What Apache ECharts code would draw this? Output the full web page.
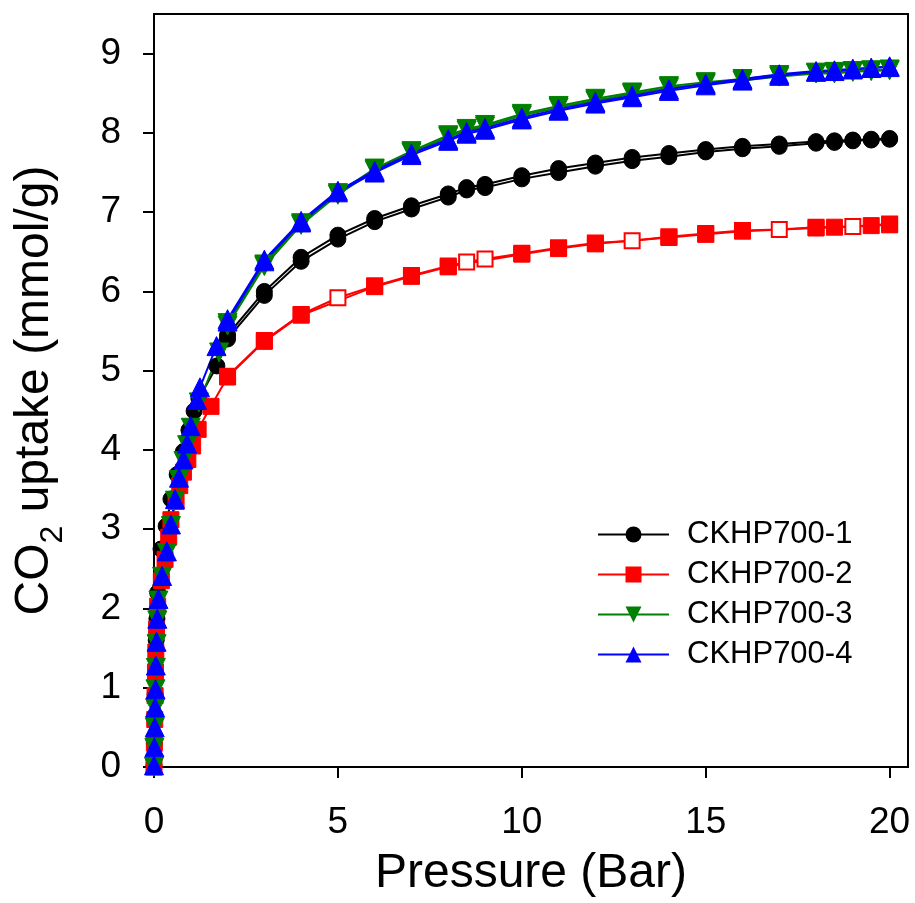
<!DOCTYPE html>
<html><head><meta charset="utf-8">
<script src="https://cdn.jsdelivr.net/npm/echarts@6/dist/echarts.min.js"></script>
<style>html,body{margin:0;padding:0;background:#fff}#c{width:915px;height:903px}</style>
</head><body><div id="c"></div>
<script>
const seriesNames = ['CKHP700-1', 'CKHP700-2', 'CKHP700-3', 'CKHP700-4'];
const xTicks = [0, 5, 10, 15, 20];
const yTicks = [0, 1, 2, 3, 4, 5, 6, 7, 8, 9];

// CKHP700-1 (black circles)
const p1Ads = [0, 0.01, 0.02, 0.03, 0.04, 0.06, 0.08, 0.1, 0.19, 0.33, 0.46, 0.63, 0.8, 0.95, 1.09, 1.22, 1.71, 2, 3, 4, 5, 6, 7, 8, 8.5, 9, 10, 11, 12, 13, 14, 15, 16, 17, 18, 18.5, 19, 19.5, 20];
const q1Ads = [0.02, 0.3, 0.62, 0.92, 1.2, 1.6, 1.87, 2.2, 2.75, 3.04, 3.38, 3.69, 3.98, 4.25, 4.49, 4.65, 5.06, 5.4, 5.95, 6.38, 6.66, 6.88, 7.04, 7.19, 7.28, 7.31, 7.42, 7.5, 7.58, 7.65, 7.7, 7.76, 7.8, 7.83, 7.87, 7.88, 7.9, 7.91, 7.92];
const p1Des = [20, 19.5, 19, 18.5, 18, 17, 16, 15, 14, 13, 12, 11, 10, 9, 8.5, 8, 7, 6, 5, 4, 3, 2];
const q1Des = [7.93, 7.92, 7.91, 7.9, 7.89, 7.86, 7.83, 7.79, 7.74, 7.69, 7.62, 7.55, 7.46, 7.35, 7.31, 7.23, 7.08, 6.92, 6.71, 6.43, 6.0, 5.45];

// CKHP700-2 (red squares)
const p2Ads = [0, 0.01, 0.02, 0.03, 0.04, 0.05, 0.07, 0.1, 0.2, 0.3, 0.4, 0.46, 0.6, 0.7, 0.8, 0.92, 1.05, 1.2, 1.55, 2, 3, 4, 6, 7, 8, 10, 11, 12, 14, 15, 16, 18, 18.5, 19.5, 20];
const q2Ads = [0, 0.3, 0.6, 0.9, 1.2, 1.45, 1.74, 2.03, 2.35, 2.62, 2.9, 3.12, 3.35, 3.55, 3.72, 3.88, 4.05, 4.26, 4.55, 4.92, 5.37, 5.7, 6.06, 6.19, 6.31, 6.47, 6.54, 6.6, 6.68, 6.72, 6.76, 6.8, 6.81, 6.83, 6.84];
const p2Des = [20, 19, 18, 17, 16, 15, 14, 13, 12, 11, 10, 9, 8.5, 8, 7, 6, 5, 4, 3, 2];
const q2Des = [6.85, 6.82, 6.81, 6.78, 6.77, 6.73, 6.69, 6.64, 6.61, 6.55, 6.48, 6.41, 6.37, 6.32, 6.2, 6.07, 5.92, 5.71, 5.38, 4.93];

// CKHP700-3 (green down triangles)
const p3Ads = [0, 0.01, 0.02, 0.03, 0.04, 0.05, 0.07, 0.09, 0.12, 0.22, 0.35, 0.46, 0.57, 0.68, 0.8, 0.9, 1.0, 1.22, 1.77, 2, 3, 4, 5, 6, 7, 8, 8.5, 9, 10, 11, 12, 13, 14, 15, 16, 17, 18, 18.5, 19, 19.5, 20];
const q3Ads = [0, 0.24, 0.5, 0.74, 0.98, 1.25, 1.55, 1.85, 2.1, 2.4, 2.7, 3.04, 3.36, 3.62, 3.86, 4.06, 4.28, 4.6, 5.23, 5.57, 6.32, 6.84, 7.22, 7.53, 7.75, 7.95, 8.03, 8.08, 8.22, 8.32, 8.41, 8.49, 8.57, 8.62, 8.66, 8.71, 8.75, 8.75, 8.77, 8.78, 8.79];
const p3Des = [20, 19.5, 19, 18.5, 18, 17, 16, 15, 14, 13, 12, 11, 10, 9, 8.5, 8, 7, 6, 5, 4, 3, 2];
const q3Des = [8.8, 8.79, 8.78, 8.77, 8.76, 8.73, 8.68, 8.64, 8.59, 8.51, 8.43, 8.34, 8.24, 8.1, 8.05, 7.97, 7.77, 7.55, 7.24, 6.86, 6.34, 5.6];

// CKHP700-4 (blue up triangles)
const p4Ads = [0, 0.01, 0.02, 0.03, 0.04, 0.05, 0.07, 0.09, 0.12, 0.22, 0.35, 0.46, 0.57, 0.68, 0.8, 0.9, 1.0, 1.17, 1.25, 1.7, 2, 3, 4, 5, 6, 7, 8, 8.5, 9, 10, 11, 12, 13, 14, 15, 16, 17, 18, 18.5, 19, 19.5, 20];
const q4Ads = [0.02, 0.25, 0.5, 0.75, 0.98, 1.28, 1.58, 1.87, 2.12, 2.41, 2.72, 3.06, 3.38, 3.65, 3.88, 4.08, 4.3, 4.63, 4.79, 5.31, 5.62, 6.38, 6.87, 7.25, 7.5, 7.72, 7.9, 7.99, 8.04, 8.17, 8.28, 8.37, 8.45, 8.53, 8.6, 8.66, 8.72, 8.77, 8.78, 8.8, 8.82, 8.83];
const p4Des = [20, 19.5, 19, 18.5, 18, 17, 16, 15, 14, 13, 12, 11, 10, 9, 8.5, 8, 7, 6, 5, 4, 3, 2];
const q4Des = [8.84, 8.82, 8.81, 8.79, 8.78, 8.74, 8.68, 8.62, 8.55, 8.47, 8.39, 8.3, 8.19, 8.06, 8.01, 7.92, 7.74, 7.52, 7.27, 6.89, 6.4, 5.65];

const FONT = '"Liberation Sans", Arial, sans-serif';
const zip = (a, b) => a.map((v, i) => [v, b[i]]);

function mk(name, px, qy, color, symbol, rotate, size) {
  return {
    type: 'line', name: name, data: zip(px, qy),
    symbol: symbol, symbolSize: size, symbolRotate: rotate,
    showAllSymbol: true,
    lineStyle: { color: color, width: 2 },
    itemStyle: { color: color, borderColor: color },
    emphasis: { disabled: true },
    animation: false
  };
}

const series = [
  mk(seriesNames[0] + ' des', p1Des, q1Des, '#000000', 'circle', 0, 16),
  mk(seriesNames[0], p1Ads, q1Ads, '#000000', 'circle', 0, 16),
  mk(seriesNames[1] + ' des', p2Des, q2Des, '#ff0000', 'emptyRect', 0, 15),
  mk(seriesNames[1], p2Ads, q2Ads, '#ff0000', 'rect', 0, 16),
  mk(seriesNames[2] + ' des', p3Des, q3Des, '#008000', 'triangle', 180, 19),
  mk(seriesNames[2], p3Ads, q3Ads, '#008000', 'triangle', 180, 19),
  mk(seriesNames[3] + ' des', p4Des, q4Des, '#0000ff', 'triangle', 0, 19),
  mk(seriesNames[3], p4Ads, q4Ads, '#0000ff', 'triangle', 0, 19)
];

const chart = echarts.init(document.getElementById('c'), null, { renderer: 'canvas' });
chart.setOption({
  animation: false,
  backgroundColor: '#fff',
  textStyle: { fontFamily: FONT },
  grid: { left: 154, right: 7, top: 14, bottom: 135, show: true, borderColor: '#000', borderWidth: 2, backgroundColor: 'transparent' },
  legend: {
    data: seriesNames, orient: 'vertical', left: 597, top: 519, padding: 0,
    itemWidth: 71, itemHeight: 20, itemGap: 9,
    textStyle: { fontSize: 31, color: '#000', fontFamily: FONT, lineHeight: 31, padding: [0, 0, 0, 13] },
    selectedMode: false
  },
  xAxis: {
    type: 'value', min: 0, max: 20.5, interval: 5,
    axisLine: { show: true, onZero: false, lineStyle: { color: '#000', width: 2 } },
    axisTick: { show: true, length: 11, customValues: xTicks, lineStyle: { color: '#000', width: 2 } },
    axisLabel: { customValues: xTicks, fontSize: 37, color: '#000', margin: 37, fontFamily: FONT },
    splitLine: { show: false },
    name: 'Pressure (Bar)', nameLocation: 'middle', nameGap: 83,
    nameTextStyle: { fontSize: 48, color: '#000', fontFamily: FONT }
  },
  yAxis: {
    type: 'value', min: 0, max: 9.5, interval: 1,
    axisLine: { show: true, onZero: false, lineStyle: { color: '#000', width: 2 } },
    axisTick: { show: true, length: 11, customValues: yTicks, lineStyle: { color: '#000', width: 2 } },
    axisLabel: { customValues: yTicks, fontSize: 37, color: '#000', margin: 33, fontFamily: FONT },
    splitLine: { show: false },
    name: '{a|CO}{b|2}{a| uptake (mmol/g)}', nameLocation: 'middle', nameGap: 85,
    nameTextStyle: {
      color: '#000', fontFamily: FONT,
      rich: {
        a: { fontSize: 48, color: '#000', fontFamily: FONT, lineHeight: 48 },
        b: { fontSize: 32, color: '#000', fontFamily: FONT, lineHeight: 68, verticalAlign: 'bottom' }
      }
    }
  },
  series: series
});
</script>
</body></html>
